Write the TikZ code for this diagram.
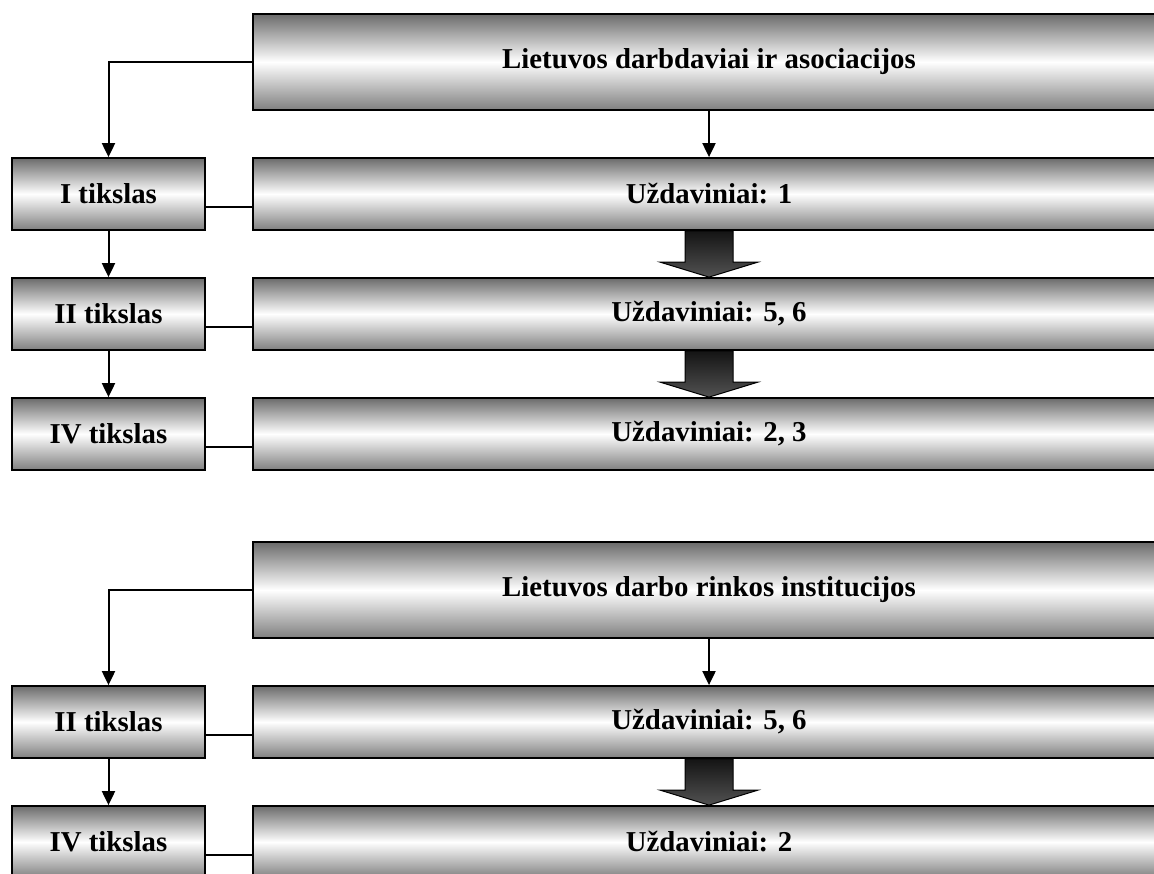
\documentclass[tikz,border=0pt]{standalone}
\usepackage{fontspec}
\setmainfont{Liberation Serif}
\usetikzlibrary{arrows.meta,calc}

\tikzset{
  box/.style={draw=black, line width=0.9pt, top color=black!58, bottom color=black!50,
    middle color=white, inner sep=0pt, font=\bfseries\fontsize{14.4}{17}\selectfont},
  tbox/.style={box, minimum width=96.5pt, minimum height=36pt},
  ubox/.style={box, minimum width=456pt, minimum height=36pt},
  hbox/.style={box, minimum width=456pt, minimum height=48pt},
  link/.style={line width=0.8pt},
  feed/.style={line width=1pt, -{Triangle[length=7pt,width=6.5pt]}},
  bigarrow/.style={top color=black!92, bottom color=black!68, draw=black, line width=0.5pt}
}

\begin{document}
\begin{tikzpicture}[x=0.5pt,y=-0.5pt]
  \useasboundingbox (0,0) rectangle (1154,873);
  \clip (0,0) rectangle (1154,873);

  % darbdaviai
  \node[hbox] (lda) at (709,62) {Lietuvos darbdaviai ir asociacijos};
  \node[tbox] (lda-t1) at (108.5,194) {I tikslas};
  \node[ubox] (lda-u1) at (709,194) {Uždaviniai: 1};
  \node[tbox] (lda-t2) at (108.5,314) {II tikslas};
  \node[ubox] (lda-u2) at (709,314) {Uždaviniai: 5, 6};
  \node[tbox] (lda-t4) at (108.5,434) {IV tikslas};
  \node[ubox] (lda-u4) at (709,434) {Uždaviniai: 2, 3};

  % darbo rinkos institucijos
  \node[hbox] (ldr) at (709,590) {Lietuvos darbo rinkos institucijos};
  \node[tbox] (ldr-t2) at (108.5,722) {II tikslas};
  \node[ubox] (ldr-u2) at (709,722) {Uždaviniai: 5, 6};
  \node[tbox] (ldr-t4) at (108.5,842) {IV tikslas};
  \node[ubox] (ldr-u4) at (709,842) {Uždaviniai: 2};

  \draw[feed] (lda.west) -| (lda-t1.north);
  \draw[feed] (lda.south) -- (lda-u1.north);
  \draw[feed] (lda-t1.south) -- (lda-t2.north);
  \draw[feed] (lda-t2.south) -- (lda-t4.north);
  \draw[feed] (ldr.west) -| (ldr-t2.north);
  \draw[feed] (ldr.south) -- (ldr-u2.north);
  \draw[feed] (ldr-t2.south) -- (ldr-t4.north);

  \foreach \t/\u in {lda-t1/lda-u1,lda-t2/lda-u2,lda-t4/lda-u4,ldr-t2/ldr-u2,ldr-t4/ldr-u4}
    \draw[link] ($(\t.east)+(0,13)$) -- ($(\u.west)+(0,13)$);

  \foreach \a/\b in {lda-u1/lda-u2,lda-u2/lda-u4,ldr-u2/ldr-u4}
    \shade[bigarrow] ($(\a.south)+(-24,0)$) -- ($(\a.south)+(24,0)$)
      -- ($(\b.north)+(24,-15)$) -- ($(\b.north)+(49,-15)$) -- (\b.north)
      -- ($(\b.north)+(-49,-15)$) -- ($(\b.north)+(-24,-15)$) -- cycle;
\end{tikzpicture}
\end{document}
